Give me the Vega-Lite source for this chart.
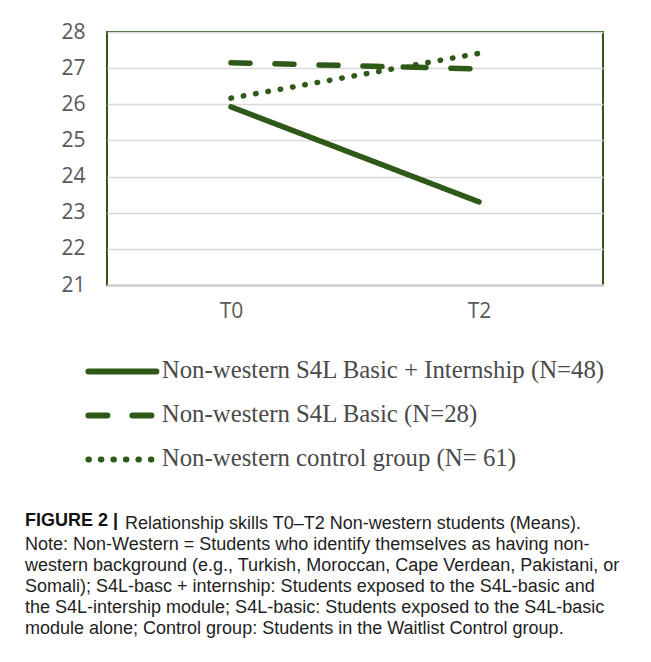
{
  "$schema": "https://vega.github.io/schema/vega-lite/v6.json",
  "autosize": {"type": "none"},
  "width": 496,
  "height": 253,
  "padding": {"left": 107, "top": 32, "right": 48, "bottom": 377},
  "background": "white",
  "title": {
    "text": "FIGURE 2 |",
    "subtitle": [
      "\u200b\u00a0\u00a0\u00a0\u00a0\u00a0\u00a0\u00a0\u00a0\u00a0\u00a0\u00a0\u00a0\u00a0\u00a0\u00a0\u00a0\u00a0\u00a0\u00a0\u00a0Relationship skills T0–T2 Non-western students (Means).",
      "Note: Non-Western = Students who identify themselves as having non-",
      "western background (e.g., Turkish, Moroccan, Cape Verdean, Pakistani, or",
      "Somali); S4L-basc + internship: Students exposed to the S4L-basic and",
      "the S4L-intership module; S4L-basic: Students exposed to the S4L-basic",
      "module alone; Control group: Students in the Waitlist Control group."
    ],
    "orient": "bottom",
    "anchor": "start",
    "frame": "group",
    "dx": -82,
    "offset": 40,
    "font": "Liberation Sans",
    "fontSize": 18,
    "fontWeight": "bold",
    "color": "#111111",
    "lineHeight": 21,
    "subtitleFont": "Liberation Sans",
    "subtitleFontSize": 18,
    "subtitleColor": "#1e1e1e",
    "subtitleLineHeight": 21,
    "subtitlePadding": -15
  },
  "data": {
    "values": [
      {"time": "T0", "group": "Non-western S4L Basic + Internship (N=48)", "mean": 25.93},
      {"time": "T2", "group": "Non-western S4L Basic + Internship (N=48)", "mean": 23.3},
      {"time": "T0", "group": "Non-western S4L Basic (N=28)", "mean": 27.15},
      {"time": "T2", "group": "Non-western S4L Basic (N=28)", "mean": 26.98},
      {"time": "T0", "group": "Non-western control group (N= 61)", "mean": 26.17},
      {"time": "T2", "group": "Non-western control group (N= 61)", "mean": 27.41}
    ]
  },
  "mark": {"type": "line", "color": "#2f5919", "strokeWidth": 5.5, "strokeCap": "round"},
  "encoding": {
    "x": {
      "field": "time",
      "type": "nominal",
      "title": null,
      "axis": {
        "labelAngle": 0,
        "labelFont": "Open Sans",
        "labelFontSize": 21,
        "labelColor": "#595959",
        "labelPadding": 15,
        "ticks": false,
        "domainColor": "#d4d4d4",
        "domainWidth": 3,
        "grid": false
      }
    },
    "y": {
      "field": "mean",
      "type": "quantitative",
      "title": null,
      "scale": {"domain": [21, 28], "nice": false, "zero": false},
      "axis": {
        "values": [21, 22, 23, 24, 25, 26, 27, 28],
        "labelFont": "Open Sans",
        "labelFontSize": 21,
        "labelColor": "#595959",
        "labelPadding": 22,
        "ticks": false,
        "domain": false,
        "gridColor": "#d9d9d9",
        "gridWidth": 1.5
      }
    },
    "strokeDash": {
      "field": "group",
      "type": "nominal",
      "scale": {
        "domain": [
          "Non-western S4L Basic + Internship (N=48)",
          "Non-western S4L Basic (N=28)",
          "Non-western control group (N= 61)"
        ],
        "range": [[1, 0], [19, 25], [0.5, 12]]
      },
      "legend": {
        "title": null,
        "orient": "none",
        "legendX": 3,
        "legendY": 327,
        "padding": 0,
        "symbolType": "M-4,0H4",
        "symbolSize": 289,
        "symbolStrokeWidth": 6,
        "symbolStrokeColor": "#2f5919",
        "labelFont": "Liberation Serif",
        "labelFontSize": 24.8,
        "labelColor": "#4a4a4a",
        "labelOffset": 27,
        "labelLimit": 600,
        "rowPadding": 18,
        "encode": {"symbols": {"update": {"strokeCap": {"value": "round"}}}}
      }
    }
  },
  "config": {
    "view": {"stroke": "#2f5919", "strokeWidth": 2}
  }
}
